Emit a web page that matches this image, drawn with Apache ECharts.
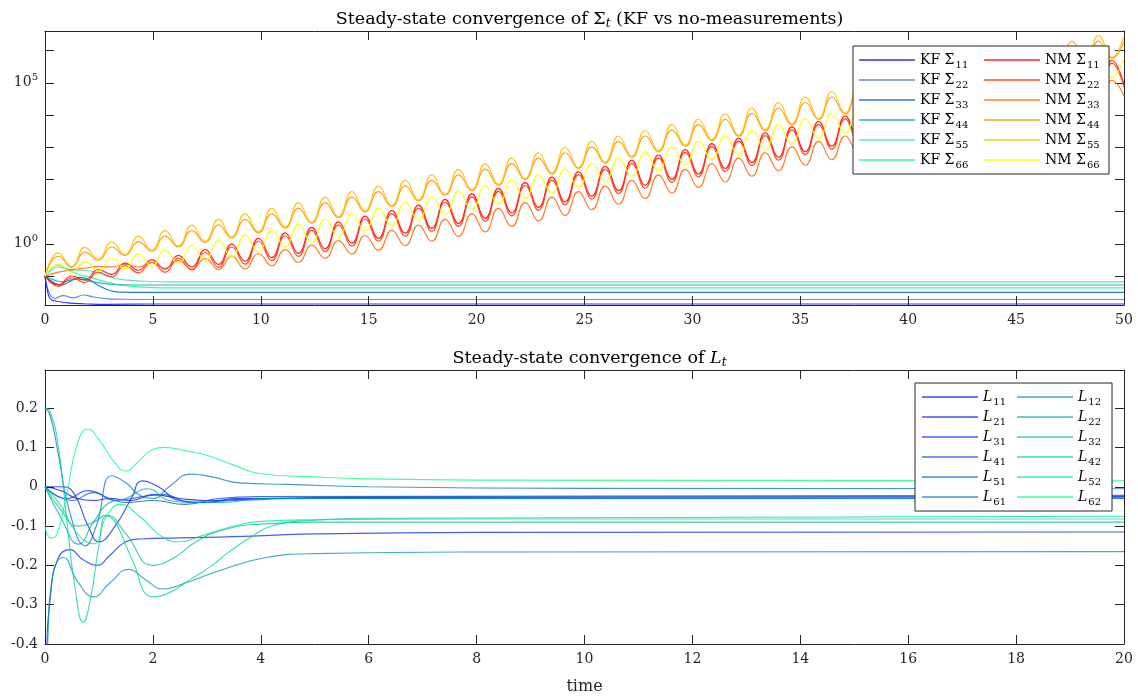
<!DOCTYPE html>
<html><head><meta charset="utf-8">
<script src="https://cdn.jsdelivr.net/npm/echarts@6/dist/echarts.min.js"></script>
<style>html,body{margin:0;padding:0;background:#fff}#c{width:1138px;height:696px}</style>
</head><body><div id="c"></div>
<script>
// ---------- top panel: times of the oscillation extrema (shared by the NM curves) ----------
const NM_T = [0, 0.62, 1.24, 1.85, 2.47, 3.09, 3.71, 4.33, 4.95, 5.56, 6.18, 6.80, 7.42, 8.04, 8.65, 9.27, 9.89, 10.51, 11.13, 11.74, 12.36, 12.98, 13.60, 14.22, 14.83, 15.45, 16.07, 16.69, 17.31, 17.92, 18.54, 19.16, 19.78, 20.40, 21.01, 21.63, 22.25, 22.87, 23.49, 24.10, 24.72, 25.34, 25.96, 26.58, 27.19, 27.81, 28.43, 29.05, 29.67, 30.28, 30.90, 31.52, 32.14, 32.76, 33.37, 33.99, 34.61, 35.23, 35.85, 36.46, 37.08, 37.70, 38.32, 38.94, 39.55, 40.17, 40.79, 41.41, 42.03, 42.64, 43.26, 43.88, 44.50, 45.12, 45.73, 46.35, 46.97, 47.59, 48.21, 48.82, 49.44, 50];
// log10 of the no-measurement covariance diagonal at those times
const NM11_LOG10 = [-1.00, -1.28,-1.00, -1.12,-0.80, -0.95,-0.60, -0.82,-0.50, -0.79,-0.36, -0.72,-0.18, -0.64,-0.01, -0.54,0.17, -0.43,0.34, -0.30,0.51, -0.15,0.68, 0.02,0.86, 0.17,1.03, 0.33,1.20, 0.48,1.38, 0.63,1.55, 0.79,1.72, 0.96,1.90, 1.13,2.07, 1.30,2.24, 1.48,2.41, 1.65,2.59, 1.82,2.76, 2.00,2.93, 2.17,3.11, 2.34,3.28, 2.52,3.45, 2.69,3.63, 2.86,3.80, 3.03,3.97, 3.21,4.15, 3.38,4.32, 3.55,4.49, 3.73,4.66, 3.90,4.84, 4.07,5.01, 4.25,5.18, 4.42,5.36, 4.59,5.53, 4.77,5.70, 4.95];
const NM22_LOG10 = [-1.00, -1.32,-1.06, -1.20,-0.88, -1.03,-0.68, -0.90,-0.58, -0.88,-0.45, -0.81,-0.27, -0.73,-0.10, -0.63,0.08, -0.52,0.25, -0.39,0.42, -0.24,0.59, -0.07,0.77, 0.08,0.94, 0.24,1.11, 0.39,1.29, 0.54,1.46, 0.70,1.63, 0.87,1.81, 1.04,1.98, 1.21,2.15, 1.39,2.32, 1.56,2.50, 1.73,2.67, 1.91,2.84, 2.08,3.02, 2.25,3.19, 2.43,3.36, 2.60,3.54, 2.77,3.71, 2.94,3.88, 3.12,4.06, 3.29,4.23, 3.46,4.40, 3.64,4.57, 3.81,4.75, 3.98,4.92, 4.16,5.09, 4.33,5.27, 4.50,5.44, 4.68,5.61, 4.86];
const NM33_LOG10 = [-1.00, -0.88,-0.80, -0.76,-0.70, -0.72,-0.64, -0.72,-0.58, -0.76,-0.52, -0.78,-0.46, -0.80,-0.38, -0.78,-0.30, -0.68,-0.18, -0.58,-0.04, -0.45,0.10, -0.32,0.26, -0.20,0.42, -0.06,0.58, 0.08,0.76, 0.23,0.93, 0.37,1.10, 0.54,1.28, 0.71,1.45, 0.88,1.62, 1.06,1.79, 1.23,1.97, 1.40,2.14, 1.58,2.31, 1.75,2.49, 1.92,2.66, 2.10,2.83, 2.27,3.01, 2.44,3.18, 2.61,3.35, 2.79,3.53, 2.96,3.70, 3.13,3.87, 3.31,4.04, 3.48,4.22, 3.65,4.39, 3.83,4.56, 4.00,4.74, 4.17,4.91, 4.35,5.08, 4.60];
const NM44_LOG10 = [-1.00, -0.38,-0.73, -0.26,-0.51, -0.10,-0.36, 0.07,-0.23, 0.24,-0.10, 0.41,0.04, 0.59,0.18, 0.76,0.34, 0.93,0.49, 1.10,0.64, 1.28,0.81, 1.45,0.99, 1.62,1.16, 1.80,1.33, 1.97,1.51, 2.14,1.65, 2.32,1.82, 2.49,2.00, 2.66,2.17, 2.83,2.34, 3.01,2.51, 3.18,2.69, 3.35,2.86, 3.53,3.03, 3.70,3.21, 3.87,3.34, 4.05,3.51, 4.22,3.69, 4.39,3.86, 4.56,4.03, 4.74,4.21, 4.91,4.38, 5.08,4.55, 5.26,4.72, 5.43,4.90, 5.60,5.07, 5.78,5.24, 5.95,5.42, 6.12,5.59, 6.30,5.76, 6.28];
const NM55_LOG10 = [-1.00, -0.28,-0.70, -0.11,-0.48, 0.06,-0.33, 0.24,-0.20, 0.41,-0.07, 0.58,0.07, 0.76,0.21, 0.93,0.37, 1.10,0.52, 1.27,0.67, 1.45,0.84, 1.62,1.02, 1.79,1.19, 1.97,1.36, 2.14,1.54, 2.31,1.68, 2.49,1.85, 2.66,2.03, 2.83,2.20, 3.00,2.37, 3.18,2.54, 3.35,2.72, 3.52,2.89, 3.70,3.06, 3.87,3.24, 4.04,3.37, 4.22,3.54, 4.39,3.72, 4.56,3.89, 4.73,4.06, 4.91,4.24, 5.08,4.41, 5.25,4.58, 5.43,4.75, 5.60,4.93, 5.77,5.10, 5.95,5.27, 6.12,5.45, 6.29,5.62, 6.47,5.79, 6.45];
const NM66_LOG10 = [-1.00, -0.63,-0.88, -0.56,-0.83, -0.44,-0.78, -0.31,-0.70, -0.19,-0.62, -0.04,-0.51, 0.10,-0.41, 0.27,-0.25, 0.44,-0.10, 0.61,0.05, 0.77,0.22, 0.94,0.40, 1.11,0.57, 1.29,0.74, 1.46,0.92, 1.63,1.06, 1.81,1.23, 1.98,1.41, 2.15,1.58, 2.32,1.75, 2.50,1.92, 2.67,2.10, 2.84,2.27, 3.02,2.44, 3.19,2.62, 3.36,2.75, 3.54,2.92, 3.71,3.10, 3.88,3.27, 4.05,3.44, 4.23,3.62, 4.40,3.79, 4.57,3.96, 4.75,4.13, 4.92,4.31, 5.09,4.48, 5.27,4.65, 5.44,4.83, 5.61,5.00, 5.79,5.17, 5.77];
// Kalman-filter covariance diagonal: [time, log10 value]
const KF11_LOG10 = [[0,-1.0],[0.1,-1.4],[0.23,-1.70],[0.45,-1.77],[0.69,-1.80],[1.0,-1.83],[1.31,-1.85],[2.0,-1.87],[2.86,-1.88],[5,-1.87],[50,-1.87]];
const KF22_LOG10 = [[0,-1.0],[0.15,-1.45],[0.46,-1.69],[0.85,-1.61],[1.31,-1.68],[1.78,-1.59],[2.24,-1.65],[2.8,-1.70],[3.63,-1.72],[5,-1.73],[50,-1.73]];
const KF33_LOG10 = [[0,-1.0],[0.4,-1.2],[0.77,-1.28],[1.2,-1.15],[1.62,-1.04],[2.0,-1.1],[2.5,-1.3],[3.0,-1.45],[3.5,-1.5],[4.5,-1.51],[50,-1.51]];
const KF44_LOG10 = [[0,-1.0],[0.4,-1.12],[0.8,-1.18],[1.2,-1.12],[1.6,-1.10],[2.0,-1.15],[2.6,-1.22],[3.2,-1.26],[4,-1.28],[50,-1.28]];
const KF55_LOG10 = [[0,-1.0],[0.3,-0.82],[0.6,-0.72],[0.9,-0.76],[1.3,-0.82],[1.8,-0.82],[2.2,-0.86],[2.7,-0.96],[3.2,-1.06],[3.7,-1.12],[4.5,-1.16],[6,-1.18],[50,-1.18]];
const KF66_LOG10 = [[0,-1.0],[0.3,-0.75],[0.55,-0.66],[0.8,-0.70],[1.2,-0.85],[1.6,-0.96],[2.0,-1.02],[2.5,-1.12],[3.0,-1.21],[3.5,-1.28],[4,-1.32],[5,-1.36],[6,-1.37],[50,-1.37]];

// ---------- bottom panel: Kalman gain entries [time, value] ----------
const L11 = [[0,0],[0.3,-0.01],[0.6,-0.03],[0.9,-0.035],[1.2,-0.03],[1.6,-0.035],[2.0,-0.02],[2.5,-0.03],[3,-0.035],[4,-0.03],[6,-0.027],[20,-0.025]];
const L21 = [[0,0],[0.3,0],[0.5,-0.01],[0.8,-0.1],[1.0,-0.14],[1.3,-0.1],[1.6,-0.03],[1.8,0.015],[2.1,0.0],[2.5,-0.035],[3.0,-0.04],[3.5,-0.03],[5,-0.03],[20,-0.03]];
const L31 = [[0,-0.9],[0.03,-0.45],[0.1,-0.28],[0.25,-0.18],[0.46,-0.16],[0.7,-0.185],[0.96,-0.2],[1.2,-0.175],[1.5,-0.14],[1.76,-0.133],[2.5,-0.13],[3.5,-0.127],[5,-0.12],[8,-0.116],[20,-0.115]];
const L41 = [[0,0],[0.4,-0.03],[0.8,-0.01],[1.2,-0.03],[1.5,-0.04],[2.0,-0.035],[2.6,-0.045],[3.2,-0.03],[4,-0.025],[20,-0.022]];
const L51 = [[0,0],[0.5,-0.035],[0.9,-0.015],[1.3,-0.035],[1.8,-0.025],[2.2,-0.02],[2.7,-0.04],[3.5,-0.035],[5,-0.03],[20,-0.028]];
const L61 = [[0,0.2],[0.1,0.18],[0.25,0.08],[0.45,-0.06],[0.75,-0.15],[0.95,-0.1],[1.24,0.028],[1.5,0.01],[1.8,-0.025],[2.0,-0.03],[2.3,0.0],[2.7,0.032],[3.1,0.025],[3.6,0.01],[4.5,0.006],[6,0.0],[10,-0.004],[20,-0.005]];
const L12 = [[0,-0.7],[0.05,-0.4],[0.15,-0.22],[0.34,-0.18],[0.6,-0.24],[0.9,-0.28],[1.2,-0.245],[1.55,-0.21],[1.85,-0.235],[2.19,-0.26],[2.6,-0.245],[3.2,-0.215],[4.1,-0.18],[5,-0.17],[8,-0.166],[20,-0.165]];
const L22 = [[0,0],[0.3,-0.08],[0.62,-0.146],[0.9,-0.09],[1.2,-0.04],[1.5,-0.03],[1.9,-0.005],[2.3,-0.035],[2.7,-0.04],[3.3,-0.04],[4,-0.03],[20,-0.03]];
const L32 = [[0,0],[0.3,-0.06],[0.6,-0.10],[0.9,-0.09],[1.14,-0.072],[1.5,-0.12],[2.0,-0.2],[2.4,-0.18],[2.8,-0.14],[3.3,-0.11],[4,-0.095],[5,-0.09],[20,-0.09]];
const L42 = [[0,0.2],[0.1,0.19],[0.25,0.1],[0.4,-0.08],[0.55,-0.25],[0.71,-0.345],[0.85,-0.28],[1.0,-0.15],[1.14,-0.075],[1.3,-0.09],[1.6,-0.18],[2.0,-0.28],[2.3,-0.27],[2.7,-0.235],[3.1,-0.2],[3.4,-0.167],[3.8,-0.13],[4.2,-0.1],[5,-0.085],[6,-0.08],[20,-0.075]];
const L52 = [[0,0],[0.3,-0.05],[0.6,-0.12],[0.9,-0.145],[1.14,-0.075],[1.4,-0.045],[1.75,-0.075],[2.2,-0.13],[2.5,-0.14],[2.9,-0.125],[3.5,-0.1],[4,-0.088],[5,-0.084],[8,-0.082],[20,-0.082]];
const L62 = [[0,-0.10],[0.1,-0.13],[0.2,-0.125],[0.4,-0.02],[0.6,0.11],[0.8,0.147],[1.0,0.12],[1.3,0.06],[1.5,0.04],[1.7,0.06],[2.0,0.095],[2.2,0.10],[2.6,0.092],[3.0,0.08],[3.5,0.055],[4.0,0.033],[5,0.025],[6,0.02],[8,0.017],[20,0.015]];

const KF_NAMES = ['KF Σ11','KF Σ22','KF Σ33','KF Σ44','KF Σ55','KF Σ66'];
const NM_NAMES = ['NM Σ11','NM Σ22','NM Σ33','NM Σ44','NM Σ55','NM Σ66'];
const L_NAMES = ['L11','L21','L31','L41','L51','L61','L12','L22','L32','L42','L52','L62'];
const TOP_Y_LABELS = {0: '{b|10}{p|0}', 5: '{b|10}{p|5}'};

const FONT = 'DejaVu Serif';
const AX = '#262626';
const KF_COLORS = ['rgba(0,0,255,0.8)','rgba(0,51,230,0.6)','rgba(0,102,204,0.85)','rgba(0,153,179,0.8)','rgba(0,204,153,0.6)','rgba(0,255,128,0.8)'];
const NM_COLORS = ['rgba(255,0,0,0.85)','rgba(255,51,0,0.85)','rgba(255,102,0,0.85)','rgba(255,153,0,0.9)','rgba(255,190,0,0.9)','rgba(255,255,0,0.9)'];
const L_COLORS = ['rgba(0,0,255,0.75)','rgba(0,23,243,0.75)','rgba(0,46,232,0.75)','rgba(0,70,220,0.75)','rgba(0,93,209,0.75)','rgba(0,116,197,0.75)','rgba(0,139,185,0.75)','rgba(0,162,174,0.75)','rgba(0,185,162,0.75)','rgba(0,209,151,0.75)','rgba(0,232,139,0.75)','rgba(0,255,128,0.75)'];

const KF_DATA = [KF11_LOG10, KF22_LOG10, KF33_LOG10, KF44_LOG10, KF55_LOG10, KF66_LOG10];
const NM_DATA = [NM11_LOG10, NM22_LOG10, NM33_LOG10, NM44_LOG10, NM55_LOG10, NM66_LOG10];
const L_DATA = [L11, L21, L31, L41, L51, L61, L12, L22, L32, L42, L52, L62];

function line(name, data, color, xi, yi) {
  return {name, type: 'line', xAxisIndex: xi, yAxisIndex: yi, data, showSymbol: false, symbol: 'none',
    smooth: 0.5, clip: true, silent: true, lineStyle: {width: 1.15, color}, itemStyle: {color}};
}
const series = [];
KF_DATA.forEach((d, i) => series.push(line(KF_NAMES[i], d.map(p => [p[0], Math.pow(10, p[1])]), KF_COLORS[i], 0, 0)));
NM_DATA.forEach((d, i) => series.push(line(NM_NAMES[i], NM_T.map((t, k) => [t, Math.pow(10, d[k])]), NM_COLORS[i], 0, 0)));
L_DATA.forEach((d, i) => series.push(line(L_NAMES[i], d, L_COLORS[i], 2, 2)));

const tickStyle = {inside: true, length: 9, lineStyle: {color: AX, width: 1}};
const lineStyleAx = {show: true, onZero: false, lineStyle: {color: AX, width: 1}};
const lbl = {fontFamily: FONT, fontSize: 14, color: AX};
const legendText = {fontFamily: FONT, fontSize: 14, color: '#000', lineHeight: 20,
  rich: {s: {fontFamily: FONT, fontSize: 10, color: '#000', lineHeight: 20, padding: [10, 0, 0, 1]},
         i: {fontFamily: FONT, fontSize: 14, fontStyle: 'italic', color: '#000', lineHeight: 20}}};
const LOGMIN = Math.pow(10, -1.9), LOGMAX = Math.pow(10, 6.61);

const option = {
  animation: false,
  backgroundColor: '#fff',
  title: [
    {text: 'Steady-state convergence of Σ{s|t} (KF vs no-measurements)', left: 584.5, top: 3, textAlign: 'center',
     textStyle: {fontFamily: FONT, fontSize: 17.5, fontWeight: 'normal', color: '#000', lineHeight: 22,
       rich: {s: {fontFamily: FONT, fontSize: 12, fontStyle: 'italic', color: '#000', lineHeight: 22, padding: [10, 0, 0, 0]}}}},
    {text: 'Steady-state convergence of {i|L}{s|t}', left: 584.5, top: 342, textAlign: 'center',
     textStyle: {fontFamily: FONT, fontSize: 17.5, fontWeight: 'normal', color: '#000', lineHeight: 22,
       rich: {i: {fontFamily: FONT, fontSize: 17.5, fontStyle: 'italic', color: '#000', lineHeight: 22},
              s: {fontFamily: FONT, fontSize: 12, fontStyle: 'italic', color: '#000', lineHeight: 22, padding: [10, 0, 0, 0]}}}}
  ],
  grid: [
    {left: 45, right: 14, top: 31, height: 274, containLabel: false},
    {left: 45, right: 14, top: 370, height: 274, containLabel: false}
  ],
  legend: [
    {data: KF_NAMES.concat(NM_NAMES), left: 853, top: 46, orient: 'vertical', height: 125,
     padding: [4, 0, 4, 6], itemGap: 0, itemWidth: 56, itemHeight: 1.6, icon: 'rect', selectedMode: false,
     backgroundColor: '#fff', borderColor: AX, borderWidth: 1,
     formatter: n => n.replace(/(\d\d)$/, '{s|$1}'),
     textStyle: Object.assign({width: 64}, legendText)},
    {data: L_NAMES, left: 915, top: 383, orient: 'vertical', height: 125,
     padding: [4, 0, 4, 7], itemGap: 0, itemWidth: 56, itemHeight: 1.6, icon: 'rect', selectedMode: false,
     backgroundColor: '#fff', borderColor: AX, borderWidth: 1,
     formatter: n => '{i|L}{s|' + n.slice(1) + '}',
     textStyle: Object.assign({width: 34}, legendText)}
  ],
  xAxis: [
    {gridIndex: 0, type: 'value', min: 0, max: 50, interval: 5, position: 'bottom', axisLine: lineStyleAx,
     axisTick: tickStyle, splitLine: {show: false}, axisLabel: Object.assign({margin: 8}, lbl)},
    {gridIndex: 0, type: 'value', min: 0, max: 50, interval: 5, position: 'top', axisLine: lineStyleAx,
     axisTick: tickStyle, splitLine: {show: false}, axisLabel: {show: false}},
    {gridIndex: 1, type: 'value', min: 0, max: 20, interval: 2, position: 'bottom', axisLine: lineStyleAx,
     axisTick: tickStyle, splitLine: {show: false}, axisLabel: Object.assign({margin: 8}, lbl),
     name: 'time', nameLocation: 'middle', nameGap: 35, nameTextStyle: {fontFamily: FONT, fontSize: 16, color: AX}},
    {gridIndex: 1, type: 'value', min: 0, max: 20, interval: 2, position: 'top', axisLine: lineStyleAx,
     axisTick: tickStyle, splitLine: {show: false}, axisLabel: {show: false}}
  ],
  yAxis: [
    {gridIndex: 0, type: 'log', logBase: 10, min: LOGMIN, max: LOGMAX, position: 'left', axisLine: lineStyleAx,
     axisTick: tickStyle, splitLine: {show: false},
     axisLabel: Object.assign({margin: 7, formatter: v => {const e = Math.log10(v); const r = Math.round(e);
        return (Math.abs(e - r) < 1e-6 && TOP_Y_LABELS[r]) ? TOP_Y_LABELS[r] : '';},
       rich: {b: {fontFamily: FONT, fontSize: 14, color: AX, lineHeight: 16},
              p: {fontFamily: FONT, fontSize: 10, color: AX, lineHeight: 16, padding: [0, 0, 10, 0]}}}, lbl)},
    {gridIndex: 0, type: 'log', logBase: 10, min: LOGMIN, max: LOGMAX, position: 'right', axisLine: lineStyleAx,
     axisTick: tickStyle, splitLine: {show: false}, axisLabel: {show: false}},
    {gridIndex: 1, type: 'value', min: -0.4, max: 0.297, interval: 0.1, position: 'left', axisLine: lineStyleAx,
     axisTick: tickStyle, splitLine: {show: false},
     axisLabel: Object.assign({margin: 7, formatter: v => {const r = Math.round(v * 10);
        return Math.abs(v * 10 - r) < 1e-6 && r <= 2 ? String(r / 10) : '';}}, lbl)},
    {gridIndex: 1, type: 'value', min: -0.4, max: 0.297, interval: 0.1, position: 'right', axisLine: lineStyleAx,
     axisTick: tickStyle, splitLine: {show: false}, axisLabel: {show: false}}
  ],
  series
};
const chart = echarts.init(document.getElementById('c'), null, {renderer: 'canvas'});
chart.setOption(option);
</script></body></html>
